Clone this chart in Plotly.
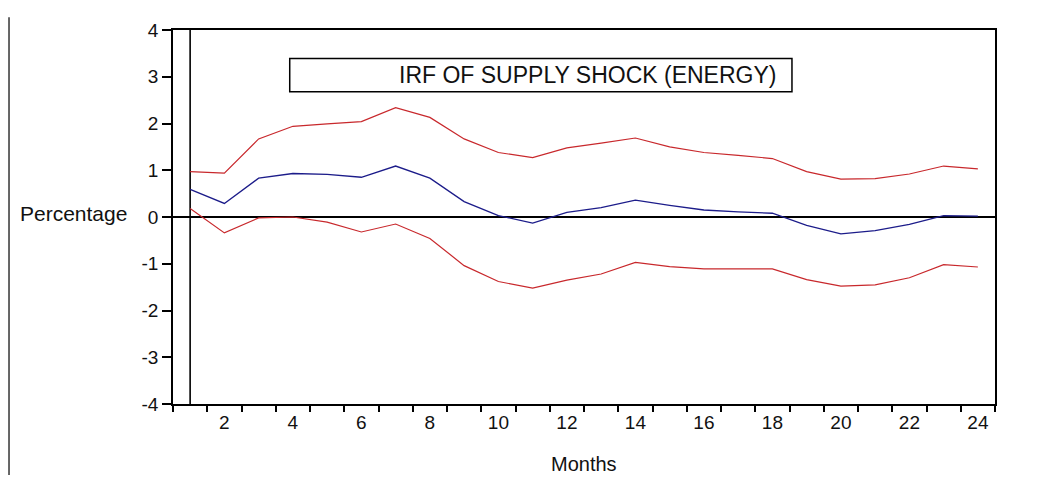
import plotly.graph_objects as go

months = list(range(1, 25))
irf = [0.59, 0.29, 0.83, 0.93, 0.91, 0.85, 1.09, 0.83, 0.33, 0.03, -0.13, 0.10,
       0.20, 0.36, 0.25, 0.15, 0.11, 0.08, -0.18, -0.36, -0.29, -0.16, 0.03, 0.02]
upper = [0.97, 0.94, 1.67, 1.94, 1.99, 2.04, 2.34, 2.13, 1.67, 1.38, 1.27, 1.48,
         1.58, 1.69, 1.50, 1.38, 1.32, 1.25, 0.97, 0.81, 0.82, 0.92, 1.09, 1.03]
lower = [0.18, -0.34, -0.02, 0.00, -0.11, -0.32, -0.15, -0.46, -1.04, -1.38, -1.52, -1.35,
         -1.22, -0.97, -1.06, -1.11, -1.11, -1.11, -1.34, -1.48, -1.45, -1.30, -1.02, -1.07]
x_tickvals = list(range(2, 25, 2))
y_tickvals = list(range(-4, 5))

RED = "#c8282c"
BLUE = "#1c1c8a"
TXT = "#111111"
FONT = "Liberation Sans, Arial, sans-serif"

fig = go.Figure()
fig.add_trace(go.Scatter(x=months, y=upper, mode="lines", line=dict(color=RED, width=1.2), showlegend=False))
fig.add_trace(go.Scatter(x=months, y=lower, mode="lines", line=dict(color=RED, width=1.2), showlegend=False))
fig.add_trace(go.Scatter(x=months, y=irf, mode="lines", line=dict(color=BLUE, width=1.3), showlegend=False))

# vertical reference line at first month
fig.add_shape(type="line", xref="x", yref="y", x0=months[0], x1=months[0], y0=-4, y1=4,
              line=dict(color="black", width=1.6), layer="below")
# title box
fig.add_shape(type="rect", xref="paper", yref="paper", x0=0.142, x1=0.753, y0=0.835, y1=0.924,
              line=dict(color="black", width=1.5), fillcolor="white")
fig.add_annotation(text="IRF OF SUPPLY SHOCK (ENERGY)", xref="paper", yref="paper", x=0.504, y=0.879,
                   xanchor="center", yanchor="middle", showarrow=False,
                   font=dict(family=FONT, size=23, color=TXT))
fig.add_annotation(text="Percentage", xref="paper", yref="y", x=-0.0535, y=0, yshift=4,
                   xanchor="right", yanchor="middle", showarrow=False,
                   font=dict(family=FONT, size=21, color=TXT))
fig.add_annotation(text="Months", xref="paper", yref="paper", x=0.5, y=-0.16,
                   xanchor="center", yanchor="middle", showarrow=False,
                   font=dict(family=FONT, size=20, color=TXT))
# left frame line of the original figure
fig.add_shape(type="line", xref="paper", yref="paper", x0=-0.1995, x1=-0.1995, y0=1.034, y1=-0.19,
              line=dict(color="black", width=1.2))

fig.update_layout(
    width=1030, height=469,
    margin=dict(l=165, r=43, t=15, b=73),
    paper_bgcolor="white", plot_bgcolor="white",
    font=dict(family=FONT, size=19, color=TXT),
    showlegend=False,
)
fig.update_xaxes(
    range=[0.5, 24.5], tickvals=x_tickvals, ticktext=[str(v) for v in x_tickvals],
    ticks="", showgrid=False, zeroline=False,
    showline=True, linecolor="black", linewidth=1.6, mirror=True,
    minor=dict(tick0=0.5, dtick=1, ticks="outside", ticklen=6, tickwidth=1.5, tickcolor="black", showgrid=False),
    tickfont=dict(size=19, color=TXT),
)
fig.update_yaxes(
    range=[-4, 4], tickvals=y_tickvals, ticktext=[str(v) for v in y_tickvals],
    ticks="outside", ticklen=9, tickwidth=1.5, tickcolor="black",
    showgrid=False, zeroline=True, zerolinecolor="black", zerolinewidth=1.5,
    showline=True, linecolor="black", linewidth=1.6, mirror=True,
    tickfont=dict(size=19, color=TXT),
)

fig.write_html("out.html")
